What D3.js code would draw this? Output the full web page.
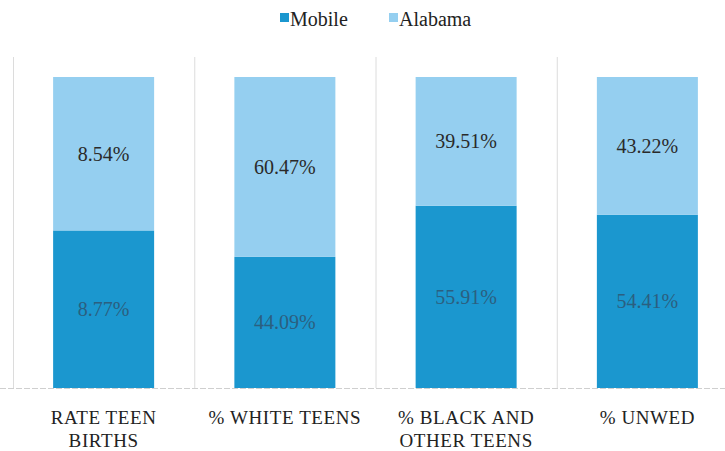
<!DOCTYPE html>
<html><head><meta charset="utf-8">
<script src="https://cdn.jsdelivr.net/npm/d3@7"></script>
<style>body{margin:0;background:#fff}svg{display:block}</style>
</head><body>
<svg id="c" width="725" height="451"></svg>
<script>
const categories = [["RATE TEEN","BIRTHS"],["% WHITE TEENS"],["% BLACK AND","OTHER TEENS"],["% UNWED"]];
const seriesNames = ["Mobile","Alabama"];
const mobile = [8.77, 44.09, 55.91, 54.41];
const alabama = [8.54, 60.47, 39.51, 43.22];
const colors = ["#1b97cf","#95cff0"];

(function(){
const FONT = "'Liberation Serif', 'DejaVu Serif', serif";
const svg = d3.select("#c").style("font-family", FONT);
const W = 725, H = 451;
const plotTop = 77, plotBottom = 388;
const x = d3.scaleBand().domain(d3.range(categories.length)).range([13, 738]).paddingInner(0).paddingOuter(0);
const barW = 101;
const y = d3.scaleLinear().domain([0,1]).range([plotBottom, plotTop]);

const rows = categories.map((c,i)=>({i, Mobile: mobile[i], Alabama: alabama[i]}));
const stack = d3.stack().keys(seriesNames).offset(d3.stackOffsetExpand);
const layers = stack(rows);

svg.append("g").selectAll("line").data(d3.range(categories.length)).join("line")
  .attr("x1", d=>x(d)+0.5).attr("x2", d=>x(d)+0.5)
  .attr("y1", plotTop-20).attr("y2", plotBottom)
  .attr("stroke", "#dcdcdc").attr("stroke-width", 1);
svg.append("line").attr("x1", 0).attr("x2", W).attr("y1", plotBottom+0.5).attr("y2", plotBottom+0.5)
  .attr("stroke", "#cfcfcf").attr("stroke-dasharray","6,2");

const vals = {Mobile: mobile, Alabama: alabama};
layers.forEach((layer, k) => {
  const g = svg.append("g");
  g.selectAll("rect").data(layer).join("rect")
    .attr("x", d => x(d.data.i) + (x.bandwidth()-barW)/2)
    .attr("width", barW)
    .attr("y", d => y(d[1]))
    .attr("height", d => y(d[0]) - y(d[1]))
    .attr("fill", colors[k]);
  g.selectAll("text").data(layer).join("text")
    .attr("x", d => x(d.data.i) + x.bandwidth()/2)
    .attr("y", d => (y(d[0]) + y(d[1]))/2 + 7)
    .attr("text-anchor", "middle")
    .style("font-family", FONT)
    .attr("font-size", 20)
    .attr("fill", k === 0 ? "#2b5f80" : "#2a2a2a")
    .text(d => vals[layer.key][d.data.i].toFixed(2) + "%");
});

const lab = svg.append("g");
categories.forEach((c,i) => {
  const t = lab.append("text")
    .attr("x", x(i) + x.bandwidth()/2)
    .attr("y", 424)
    .attr("text-anchor", "middle")
    .style("font-family", FONT)
    .attr("font-size", 19)
    .attr("letter-spacing", 0.6)
    .attr("fill", "#222");
  c.forEach((line, j) => t.append("tspan").attr("x", x(i)+x.bandwidth()/2).attr("dy", j===0?0:23).text(line));
});

const leg = svg.append("g");
const legX = [280, 389];
seriesNames.forEach((s,k) => {
  leg.append("rect").attr("x", legX[k]).attr("y", 13).attr("width", 9).attr("height", 9).attr("fill", colors[k]);
  leg.append("text").attr("x", legX[k]+10).attr("y", 26)
    .style("font-family", FONT)
    .attr("font-size", 20).attr("fill", "#222").text(s);
});
})();
</script>
</body></html>
